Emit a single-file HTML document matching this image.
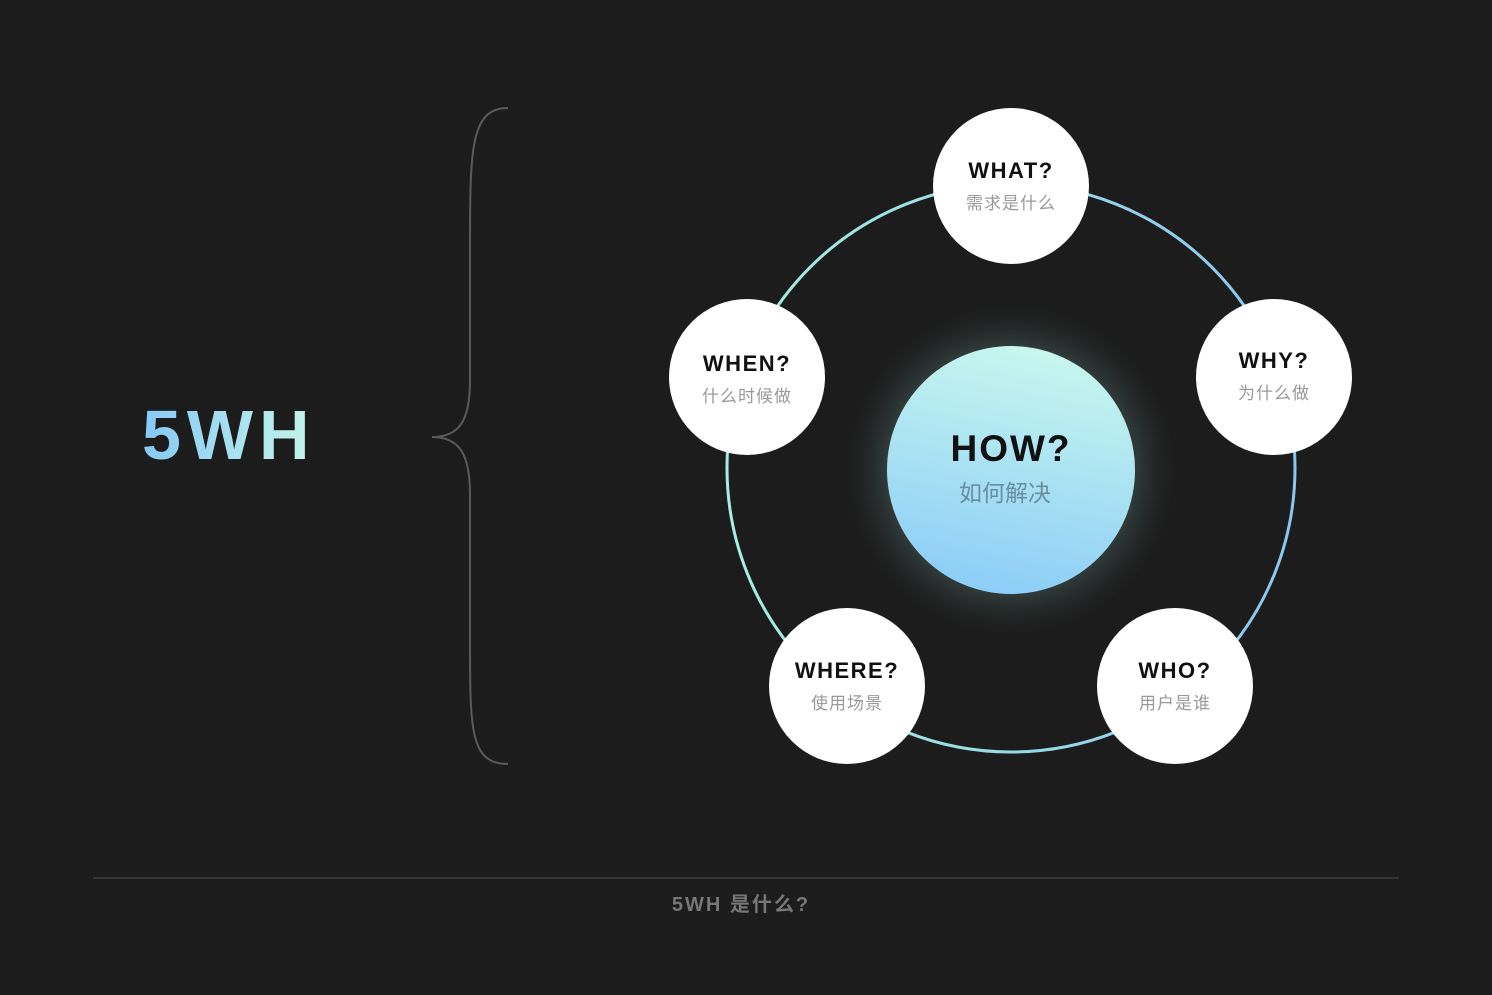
<!DOCTYPE html>
<html><head><meta charset="utf-8"><style>
html,body{margin:0;padding:0;background:#1c1c1c;}
svg{display:block}
</style></head><body>
<svg width="1492" height="995" viewBox="0 0 1492 995" xmlns="http://www.w3.org/2000/svg">
<defs>
<linearGradient id="t" x1="0" y1="0" x2="1" y2="0">
<stop offset="0" stop-color="#86c9f6"/><stop offset="1" stop-color="#c6f6ea"/></linearGradient>
<linearGradient id="ring" x1="0" y1="0" x2="1" y2="0">
<stop offset="0" stop-color="#a6efdf"/><stop offset="1" stop-color="#8ac6f0"/></linearGradient>
<linearGradient id="c" x1="0.6" y1="0" x2="0.4" y2="1">
<stop offset="0" stop-color="#c8f7ee"/><stop offset="1" stop-color="#8ccdf8"/></linearGradient>
<radialGradient id="glow"><stop offset="0.72" stop-color="#3a4a48" stop-opacity="0.8"/><stop offset="1" stop-color="#2a3030" stop-opacity="0"/></radialGradient>
</defs>
<text x="142" y="459" font-family="Liberation Sans, sans-serif" font-weight="bold" font-size="70" fill="url(#t)" letter-spacing="6">5WH</text>
<path d="M508,108 C470,108 470,150 470,250 L470,380 C470,420 460,437 432,437 C460,437 470,455 470,495 L470,640 C470,730 470,764 508,764" fill="none" stroke="#5a5a5a" stroke-width="2"/>
<circle cx="1011" cy="468" r="284" fill="none" stroke="url(#ring)" stroke-width="3"/>
<circle cx="1011" cy="470" r="165" fill="url(#glow)"/>
<circle cx="1011" cy="470" r="124" fill="url(#c)"/>
<text x="1011" y="461" text-anchor="middle" font-family="Liberation Sans, sans-serif" font-weight="bold" font-size="37" fill="#111" letter-spacing="2">HOW?</text>
<text x="1005" y="501" text-anchor="middle" font-family="Liberation Sans, 'Noto Sans CJK SC', sans-serif" font-size="23" fill="#6a8ea0">如何解决</text>
<g font-family="Liberation Sans, 'Noto Sans CJK SC', sans-serif" text-anchor="middle">
<circle cx="1011" cy="186" r="78" fill="#fff"/>
<text x="1011" y="178" font-weight="bold" font-size="22" fill="#111" letter-spacing="1.5">WHAT?</text>
<text x="1011" y="209" font-size="17" fill="#999" letter-spacing="1">需求是什么</text>
<circle cx="747" cy="377" r="78" fill="#fff"/>
<text x="747" y="371" font-weight="bold" font-size="22" fill="#111" letter-spacing="1.5">WHEN?</text>
<text x="747" y="402" font-size="17" fill="#999" letter-spacing="1">什么时候做</text>
<circle cx="1274" cy="377" r="78" fill="#fff"/>
<text x="1274" y="368" font-weight="bold" font-size="22" fill="#111" letter-spacing="1.5">WHY?</text>
<text x="1274" y="399" font-size="17" fill="#999" letter-spacing="1">为什么做</text>
<circle cx="847" cy="686" r="78" fill="#fff"/>
<text x="847" y="678" font-weight="bold" font-size="22" fill="#111" letter-spacing="1.5">WHERE?</text>
<text x="847" y="709" font-size="17" fill="#999" letter-spacing="1">使用场景</text>
<circle cx="1175" cy="686" r="78" fill="#fff"/>
<text x="1175" y="678" font-weight="bold" font-size="22" fill="#111" letter-spacing="1.5">WHO?</text>
<text x="1175" y="709" font-size="17" fill="#999" letter-spacing="1">用户是谁</text>
</g>
<line x1="93" y1="878" x2="1399" y2="878" stroke="#3c3c3c" stroke-width="1.5"/>
<text x="741" y="911" text-anchor="middle" font-family="Liberation Sans, 'Noto Sans CJK SC', sans-serif" font-weight="bold" font-size="20" fill="#777" letter-spacing="2">5WH 是什么?</text>
</svg>
</body></html>
